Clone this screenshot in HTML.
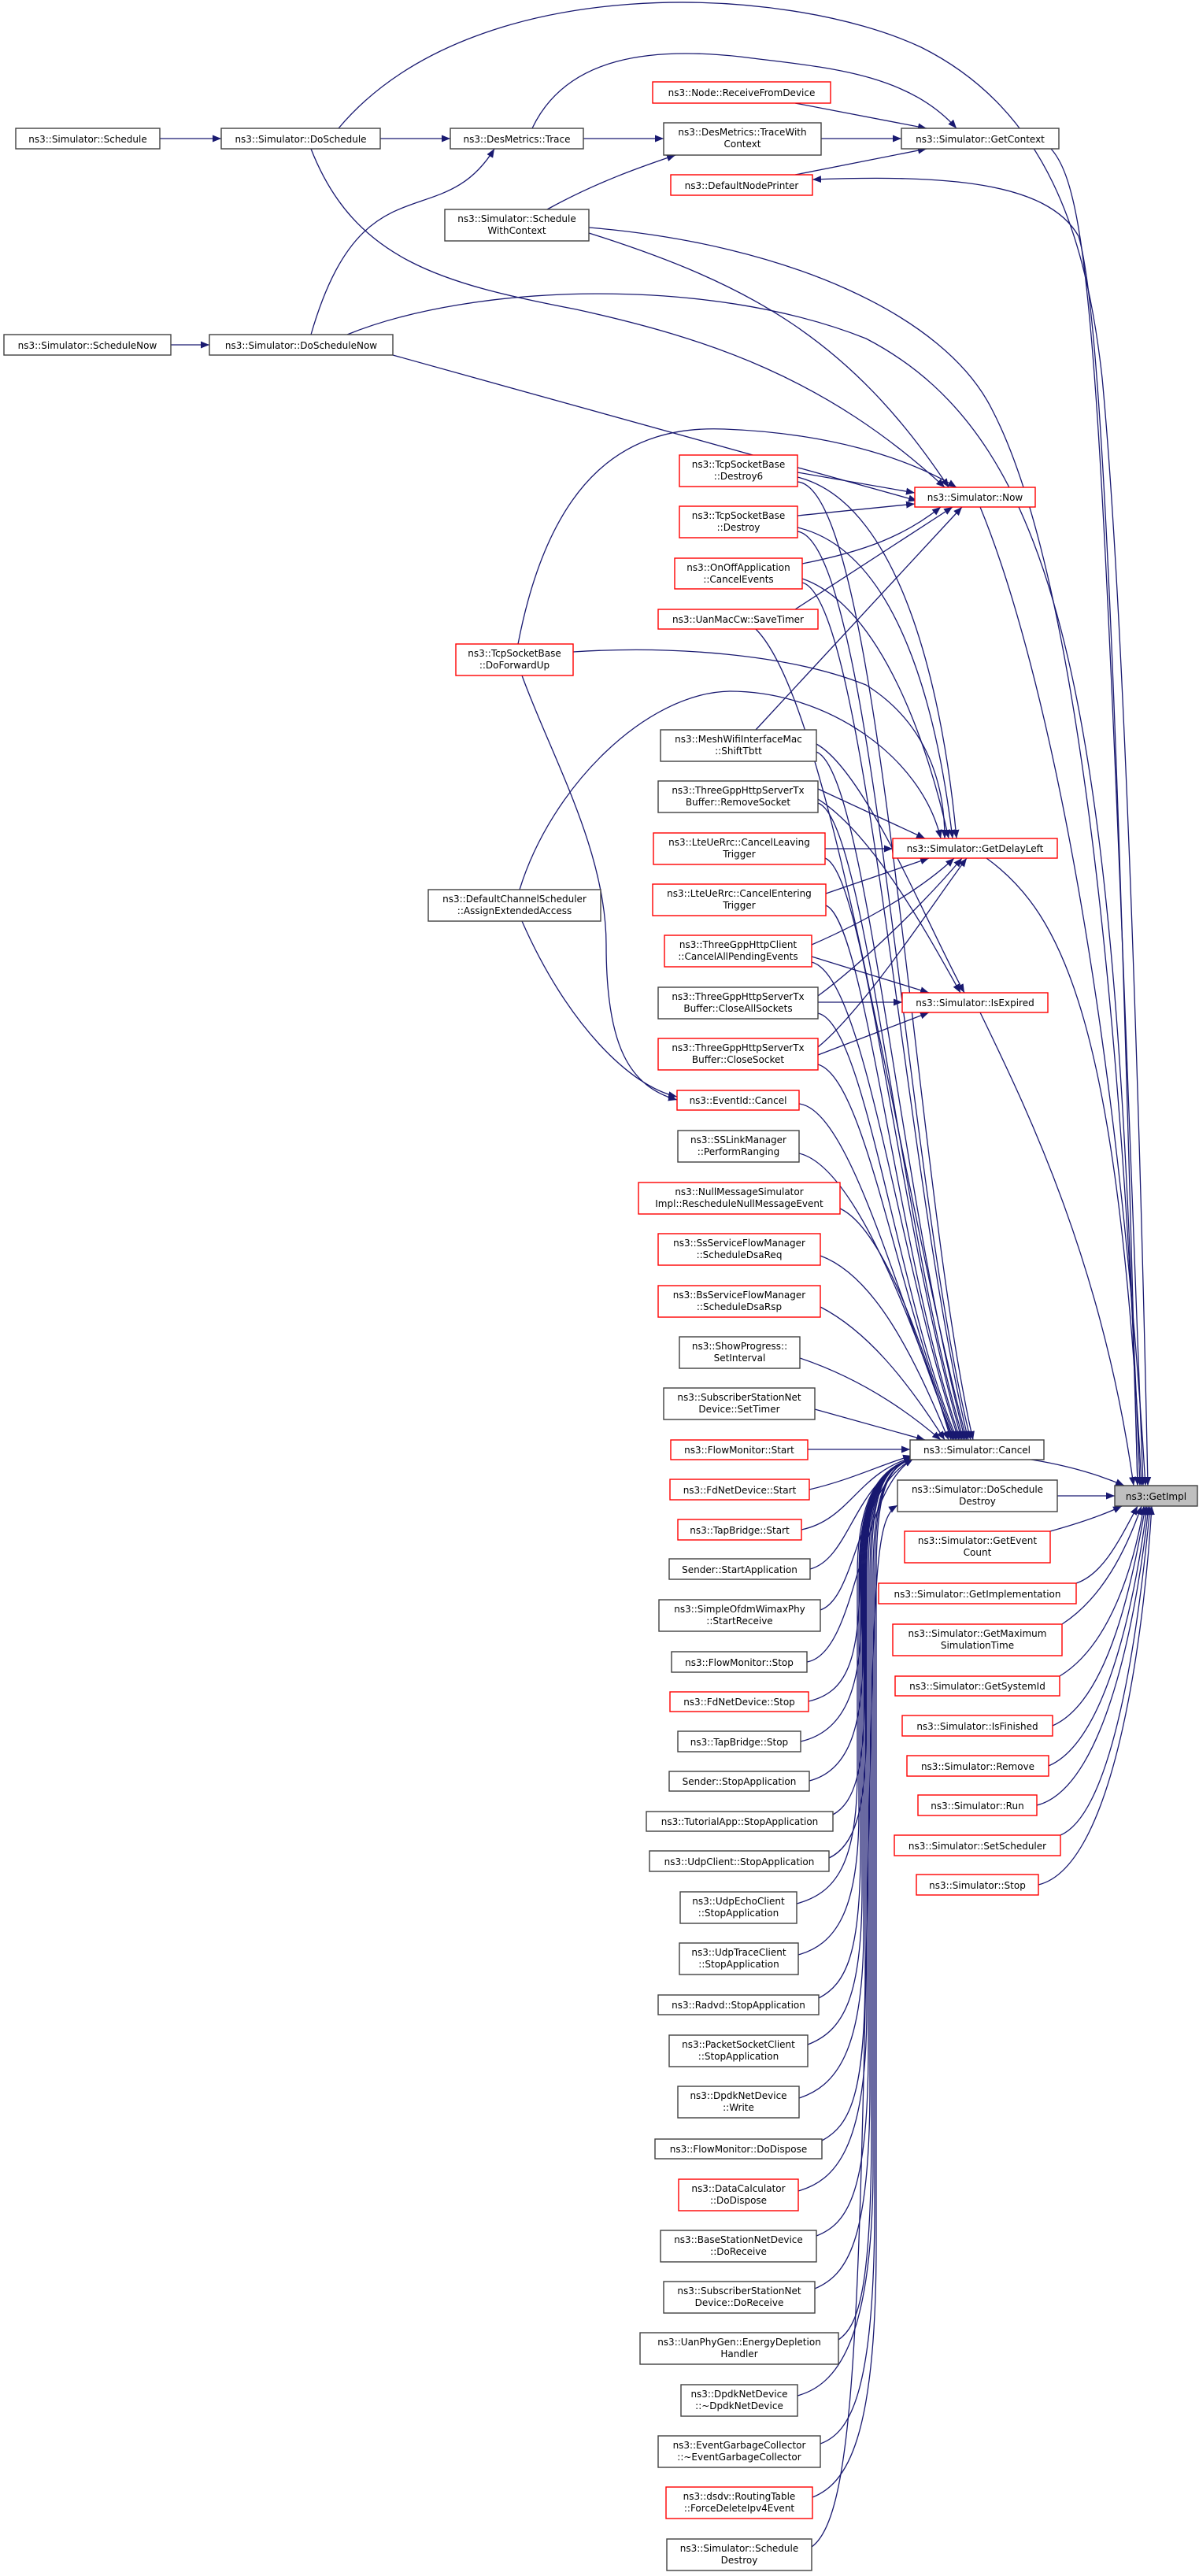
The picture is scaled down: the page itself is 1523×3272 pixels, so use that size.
<!DOCTYPE html>
<html><head><meta charset="utf-8"><style>
html,body{margin:0;padding:0;background:#fff;}
svg{display:block}
text{font-family:"DejaVu Sans","Liberation Sans",sans-serif;font-size:12px;fill:#000;text-anchor:middle}
.b{fill:#fff;stroke:#404040;stroke-width:1.4}
.r{fill:#fff;stroke:#ff0000;stroke-width:1.4}
.e path{fill:none;stroke:#191970;stroke-width:1.3}
</style></head><body>
<svg width="1523" height="3272" viewBox="0 0 1523 3272" xmlns="http://www.w3.org/2000/svg">
<defs><marker id="a" markerUnits="userSpaceOnUse" markerWidth="12" markerHeight="10" refX="11" refY="4.5" orient="auto"><path d="M0,0 L11,4.5 L0,9 z" fill="#191970"/></marker></defs>

<g class="e">
<path d="M203,176 L281,176" marker-end="url(#a)"/>
<path d="M483,176 L572,176" marker-end="url(#a)"/>
<path d="M741,176 L843,176" marker-end="url(#a)"/>
<path d="M1043,176 L1145,176" marker-end="url(#a)"/>
<path d="M1010,131 L1177,163" marker-end="url(#a)"/>
<path d="M1010,222 L1177,189" marker-end="url(#a)"/>
<path d="M676,163 C720,70 830,60 940,72 C1040,85 1150,90 1215,163" marker-end="url(#a)"/>
<path d="M217,438 L266,438" marker-end="url(#a)"/>
<path d="M395,425 C460,200 560,300 628,189" marker-end="url(#a)"/>
<path d="M695,266 C760,230 820,210 858,197" marker-end="url(#a)"/>
<path d="M430,163 C600,-40 1000,-20 1170,60 C1330,140 1380,300 1400,480 C1430,800 1450,1500 1458,1887" marker-end="url(#a)"/>
<path d="M1335,189 C1390,250 1400,500 1452,1887" marker-end="url(#a)"/>
<path d="M1445,1887 C1420,900 1400,400 1370,300 C1330,230 1200,222 1032,228" marker-end="url(#a)"/>
<path d="M395,189 C450,330 560,360 732,393 C900,430 1050,480 1200,619" marker-end="url(#a)"/>
<path d="M748,296 C950,360 1080,430 1205,619" marker-end="url(#a)"/>
<path d="M748,289 C1000,310 1200,400 1260,520 C1380,750 1430,1400 1448,1887" marker-end="url(#a)"/>
<path d="M441,425 C600,360 900,350 1100,430 C1350,560 1420,900 1445,1887" marker-end="url(#a)"/>
<path d="M499,451 L1165,636" marker-end="url(#a)"/>
<path d="M1013,600 L1162,626" marker-end="url(#a)"/>
<path d="M1013,655 L1162,640" marker-end="url(#a)"/>
<path d="M1019,716 C1100,700 1150,680 1195,644" marker-end="url(#a)"/>
<path d="M1010,774 L1210,644" marker-end="url(#a)"/>
<path d="M960,927 L1222,644" marker-end="url(#a)"/>
<path d="M658,818 C700,600 800,540 920,545 C1050,550 1150,580 1215,619" marker-end="url(#a)"/>
<path d="M1013,606 C1150,640 1200,900 1215,1065" marker-end="url(#a)"/>
<path d="M1013,670 C1140,700 1190,900 1210,1065" marker-end="url(#a)"/>
<path d="M1019,735 C1120,770 1180,950 1205,1065" marker-end="url(#a)"/>
<path d="M728,828 C850,820 1000,830 1100,870 C1180,920 1200,1000 1200,1065" marker-end="url(#a)"/>
<path d="M660,1130 C700,1000 820,880 927,878 C1050,878 1170,960 1195,1065" marker-end="url(#a)"/>
<path d="M1039,1002 L1175,1065" marker-end="url(#a)"/>
<path d="M1048,1078 L1134,1078" marker-end="url(#a)"/>
<path d="M1049,1135 L1180,1090" marker-end="url(#a)"/>
<path d="M1031,1200 C1100,1170 1170,1130 1212,1090" marker-end="url(#a)"/>
<path d="M1039,1265 C1100,1220 1180,1140 1222,1090" marker-end="url(#a)"/>
<path d="M1039,1330 C1100,1280 1190,1140 1228,1090" marker-end="url(#a)"/>
<path d="M1037,945 C1100,980 1180,1180 1225,1261" marker-end="url(#a)"/>
<path d="M1039,1015 C1110,1060 1180,1190 1220,1261" marker-end="url(#a)"/>
<path d="M1031,1215 L1180,1261" marker-end="url(#a)"/>
<path d="M1039,1273 L1146,1273" marker-end="url(#a)"/>
<path d="M1039,1340 L1180,1286" marker-end="url(#a)"/>
<path d="M663,858 C700,960 770,1080 770,1200 C770,1330 800,1380 860,1397" marker-end="url(#a)"/>
<path d="M663,1170 C720,1300 800,1380 860,1393" marker-end="url(#a)"/>
<path d="M1245,644 C1330,850 1420,1300 1455,1887" marker-end="url(#a)"/>
<path d="M1253,1090 C1350,1160 1420,1300 1450,1887" marker-end="url(#a)"/>
<path d="M1245,1286 C1300,1400 1400,1600 1440,1887" marker-end="url(#a)"/>
<path d="M1310,1854 C1360,1862 1400,1875 1428,1887" marker-end="url(#a)"/>
<path d="M1343,1900 L1416,1900" marker-end="url(#a)"/>
<path d="M1334,1945 C1370,1935 1400,1925 1425,1913" marker-end="url(#a)"/>
<path d="M1367,2011 C1400,2000 1420,1960 1445,1913" marker-end="url(#a)"/>
<path d="M1349,2063 C1400,2030 1430,1970 1450,1913" marker-end="url(#a)"/>
<path d="M1346,2129 C1410,2090 1440,1990 1453,1913" marker-end="url(#a)"/>
<path d="M1337,2192 C1410,2160 1440,2000 1455,1913" marker-end="url(#a)"/>
<path d="M1332,2243 C1410,2210 1445,2010 1457,1913" marker-end="url(#a)"/>
<path d="M1317,2293 C1410,2270 1448,2020 1459,1913" marker-end="url(#a)"/>
<path d="M1347,2331 C1420,2300 1450,2030 1461,1913" marker-end="url(#a)"/>
<path d="M1319,2394 C1420,2370 1455,2050 1463,1913" marker-end="url(#a)"/>
<path d="M1031,3235 C1080,3200 1090,3000 1100,2500 C1110,2000 1110,1930 1140,1912" marker-end="url(#a)"/>
<path d="M1013,612 C1120,620 1160,1500 1236,1829" marker-end="url(#a)"/>
<path d="M1013,675 C1110,690 1150,1500 1233,1829" marker-end="url(#a)"/>
<path d="M1019,740 C1100,760 1150,1500 1230,1829" marker-end="url(#a)"/>
<path d="M960,799 C1060,900 1140,1500 1228,1829" marker-end="url(#a)"/>
<path d="M1037,955 C1100,980 1140,1500 1226,1829" marker-end="url(#a)"/>
<path d="M1039,1020 C1100,1040 1140,1550 1224,1829" marker-end="url(#a)"/>
<path d="M1048,1090 C1100,1110 1140,1550 1222,1829" marker-end="url(#a)"/>
<path d="M1049,1150 C1100,1170 1140,1600 1220,1829" marker-end="url(#a)"/>
<path d="M1031,1222 C1100,1240 1140,1600 1218,1829" marker-end="url(#a)"/>
<path d="M1039,1287 C1100,1300 1140,1650 1216,1829" marker-end="url(#a)"/>
<path d="M1039,1352 C1100,1370 1140,1650 1214,1829" marker-end="url(#a)"/>
<path d="M1015,1402 C1080,1410 1140,1650 1212,1829" marker-end="url(#a)"/>
<path d="M1015,1465 C1080,1480 1150,1650 1210,1829" marker-end="url(#a)"/>
<path d="M1067,1535 C1120,1560 1170,1700 1208,1829" marker-end="url(#a)"/>
<path d="M1042,1595 C1110,1620 1160,1720 1205,1829" marker-end="url(#a)"/>
<path d="M1042,1660 C1100,1690 1150,1750 1200,1829" marker-end="url(#a)"/>
<path d="M1016,1725 C1090,1750 1150,1790 1195,1829" marker-end="url(#a)"/>
<path d="M1035,1790 L1175,1829" marker-end="url(#a)"/>
<path d="M1026,1841 L1156,1841" marker-end="url(#a)"/>
<path d="M1028,1892 C1080,1880 1120,1860 1158,1849" marker-end="url(#a)"/>
<path d="M1018,1943 C1080,1930 1090,1870 1160,1851" marker-end="url(#a)"/>
<path d="M1029,1993 C1080,1980 1085,1880 1160,1852" marker-end="url(#a)"/>
<path d="M1042,2045 C1088,2030 1088,1890 1160,1853" marker-end="url(#a)"/>
<path d="M1025,2111 C1090,2100 1090,1895 1160,1853" marker-end="url(#a)"/>
<path d="M1027,2161 C1075,2150 1092,2110 1092,2000 C1092,1900 1120,1862 1160,1853" marker-end="url(#a)"/>
<path d="M1017,2212 C1070,2200 1094,2150 1094,2050 L1094,2000 C1094,1900 1120,1862 1160,1853" marker-end="url(#a)"/>
<path d="M1028,2262 C1075,2250 1096,2200 1096,2100 L1096,2000 C1096,1900 1120,1862 1160,1853" marker-end="url(#a)"/>
<path d="M1058,2305 C1085,2290 1098,2250 1098,2150 L1098,2000 C1098,1900 1120,1862 1160,1853" marker-end="url(#a)"/>
<path d="M1053,2360 C1085,2345 1100,2300 1100,2200 L1100,2000 C1100,1900 1120,1862 1160,1853" marker-end="url(#a)"/>
<path d="M1012,2418 C1060,2405 1089,2370 1089,2250 L1089,2000 C1089,1900 1120,1862 1160,1853" marker-end="url(#a)"/>
<path d="M1014,2483 C1060,2470 1091,2430 1091,2300 L1091,2000 C1091,1900 1120,1862 1160,1853" marker-end="url(#a)"/>
<path d="M1040,2538 C1075,2520 1093,2480 1093,2350 L1093,2000 C1093,1900 1120,1862 1160,1853" marker-end="url(#a)"/>
<path d="M1026,2597 C1070,2580 1095,2540 1095,2400 L1095,2000 C1095,1900 1120,1862 1160,1853" marker-end="url(#a)"/>
<path d="M1015,2665 C1060,2650 1097,2610 1097,2450 L1097,2000 C1097,1900 1120,1862 1160,1853" marker-end="url(#a)"/>
<path d="M1044,2719 C1080,2700 1099,2660 1099,2500 L1099,2000 C1099,1900 1120,1862 1160,1853" marker-end="url(#a)"/>
<path d="M1014,2783 C1060,2770 1101,2730 1101,2550 L1101,2000 C1101,1900 1120,1862 1160,1853" marker-end="url(#a)"/>
<path d="M1037,2840 C1075,2825 1103,2790 1103,2600 L1103,2000 C1103,1900 1120,1862 1160,1853" marker-end="url(#a)"/>
<path d="M1035,2907 C1075,2890 1105,2850 1105,2650 L1105,2000 C1105,1900 1120,1862 1160,1853" marker-end="url(#a)"/>
<path d="M1065,2972 C1090,2955 1107,2910 1107,2700 L1107,2000 C1107,1900 1120,1862 1160,1853" marker-end="url(#a)"/>
<path d="M1013,3043 C1060,3030 1109,2980 1109,2750 L1109,2000 C1109,1900 1125,1862 1160,1853" marker-end="url(#a)"/>
<path d="M1042,3104 C1080,3090 1111,3040 1111,2800 L1111,2000 C1111,1900 1125,1862 1160,1853" marker-end="url(#a)"/>
<path d="M1032,3172 C1075,3155 1113,3100 1113,2850 L1113,2000 C1113,1900 1125,1862 1160,1853" marker-end="url(#a)"/>
</g>

<rect class="b" x="20" y="163" width="183" height="26"/><text x="111.5" y="181">ns3::Simulator::Schedule</text>
<rect class="b" x="281" y="163" width="202" height="26"/><text x="382" y="181">ns3::Simulator::DoSchedule</text>
<rect class="b" x="572" y="163" width="169" height="26"/><text x="656.5" y="181">ns3::DesMetrics::Trace</text>
<rect class="b" x="843" y="156" width="200" height="41"/><text x="943" y="172">ns3::DesMetrics::TraceWith</text><text x="943" y="187">Context</text>
<rect class="b" x="1145" y="163" width="200" height="26"/><text x="1245" y="181">ns3::Simulator::GetContext</text>
<rect class="r" x="829" y="104" width="226" height="27"/><text x="942" y="122">ns3::Node::ReceiveFromDevice</text>
<rect class="r" x="852" y="222" width="180" height="26"/><text x="942" y="240">ns3::DefaultNodePrinter</text>
<rect class="b" x="565" y="266" width="183" height="40"/><text x="656.5" y="282">ns3::Simulator::Schedule</text><text x="656.5" y="297">WithContext</text>
<rect class="b" x="5" y="425" width="212" height="26"/><text x="111" y="443">ns3::Simulator::ScheduleNow</text>
<rect class="b" x="266" y="425" width="233" height="26"/><text x="382.5" y="443">ns3::Simulator::DoScheduleNow</text>

<rect class="r" x="1162" y="619" width="153" height="25"/><text x="1238.5" y="636">ns3::Simulator::Now</text>
<rect class="r" x="1134" y="1065" width="209" height="25"/><text x="1238.5" y="1082">ns3::Simulator::GetDelayLeft</text>
<rect class="r" x="1146" y="1261" width="185" height="25"/><text x="1238.5" y="1278">ns3::Simulator::IsExpired</text>
<rect class="r" x="579" y="818" width="149" height="40"/><text x="653.5" y="834">ns3::TcpSocketBase</text><text x="653.5" y="849">::DoForwardUp</text>
<rect class="b" x="544" y="1130" width="219" height="40"/><text x="653.5" y="1146">ns3::DefaultChannelScheduler</text><text x="653.5" y="1161">::AssignExtendedAccess</text>

<rect class="r" x="863" y="578" width="150" height="40"/><text x="938" y="594">ns3::TcpSocketBase</text><text x="938" y="609">::Destroy6</text>
<rect class="r" x="863" y="643" width="150" height="40"/><text x="938" y="659">ns3::TcpSocketBase</text><text x="938" y="674">::Destroy</text>
<rect class="r" x="857" y="709" width="162" height="39"/><text x="938" y="725">ns3::OnOffApplication</text><text x="938" y="740">::CancelEvents</text>
<rect class="r" x="836" y="774" width="203" height="25"/><text x="937.5" y="791">ns3::UanMacCw::SaveTimer</text>
<rect class="b" x="839" y="927" width="198" height="40"/><text x="938" y="943">ns3::MeshWifiInterfaceMac</text><text x="938" y="958">::ShiftTbtt</text>
<rect class="b" x="836" y="992" width="203" height="40"/><text x="937.5" y="1008">ns3::ThreeGppHttpServerTx</text><text x="937.5" y="1023">Buffer::RemoveSocket</text>
<rect class="r" x="830" y="1058" width="218" height="40"/><text x="939" y="1074">ns3::LteUeRrc::CancelLeaving</text><text x="939" y="1089">Trigger</text>
<rect class="r" x="829" y="1123" width="220" height="40"/><text x="939" y="1139">ns3::LteUeRrc::CancelEntering</text><text x="939" y="1154">Trigger</text>
<rect class="r" x="844" y="1188" width="187" height="40"/><text x="937.5" y="1204">ns3::ThreeGppHttpClient</text><text x="937.5" y="1219">::CancelAllPendingEvents</text>
<rect class="b" x="836" y="1254" width="203" height="40"/><text x="937.5" y="1270">ns3::ThreeGppHttpServerTx</text><text x="937.5" y="1285">Buffer::CloseAllSockets</text>
<rect class="r" x="836" y="1319" width="203" height="40"/><text x="937.5" y="1335">ns3::ThreeGppHttpServerTx</text><text x="937.5" y="1350">Buffer::CloseSocket</text>
<rect class="r" x="860" y="1385" width="155" height="25"/><text x="937.5" y="1402">ns3::EventId::Cancel</text>
<rect class="b" x="861" y="1436" width="154" height="40"/><text x="938" y="1452">ns3::SSLinkManager</text><text x="938" y="1467">::PerformRanging</text>
<rect class="r" x="811" y="1502" width="256" height="40"/><text x="939" y="1518">ns3::NullMessageSimulator</text><text x="939" y="1533">Impl::RescheduleNullMessageEvent</text>
<rect class="r" x="836" y="1567" width="206" height="40"/><text x="939" y="1583">ns3::SsServiceFlowManager</text><text x="939" y="1598">::ScheduleDsaReq</text>
<rect class="r" x="836" y="1633" width="206" height="40"/><text x="939" y="1649">ns3::BsServiceFlowManager</text><text x="939" y="1664">::ScheduleDsaRsp</text>
<rect class="b" x="863" y="1698" width="153" height="40"/><text x="939.5" y="1714">ns3::ShowProgress::</text><text x="939.5" y="1729">SetInterval</text>
<rect class="b" x="843" y="1763" width="192" height="40"/><text x="939" y="1779">ns3::SubscriberStationNet</text><text x="939" y="1794">Device::SetTimer</text>
<rect class="r" x="852" y="1829" width="174" height="25"/><text x="939" y="1846">ns3::FlowMonitor::Start</text>
<rect class="r" x="851" y="1879" width="177" height="26"/><text x="939.5" y="1897">ns3::FdNetDevice::Start</text>
<rect class="r" x="861" y="1930" width="157" height="26"/><text x="939.5" y="1948">ns3::TapBridge::Start</text>
<rect class="b" x="850" y="1980" width="179" height="26"/><text x="939.5" y="1998">Sender::StartApplication</text>
<rect class="b" x="837" y="2032" width="205" height="40"/><text x="939.5" y="2048">ns3::SimpleOfdmWimaxPhy</text><text x="939.5" y="2063">::StartReceive</text>
<rect class="b" x="853" y="2098" width="172" height="26"/><text x="939" y="2116">ns3::FlowMonitor::Stop</text>
<rect class="r" x="851" y="2149" width="176" height="25"/><text x="939" y="2166">ns3::FdNetDevice::Stop</text>
<rect class="b" x="861" y="2199" width="156" height="26"/><text x="939" y="2217">ns3::TapBridge::Stop</text>
<rect class="b" x="850" y="2250" width="178" height="25"/><text x="939" y="2267">Sender::StopApplication</text>
<rect class="b" x="821" y="2301" width="237" height="25"/><text x="939.5" y="2318">ns3::TutorialApp::StopApplication</text>
<rect class="b" x="825" y="2351" width="228" height="26"/><text x="939" y="2369">ns3::UdpClient::StopApplication</text>
<rect class="b" x="864" y="2403" width="148" height="40"/><text x="938" y="2419">ns3::UdpEchoClient</text><text x="938" y="2434">::StopApplication</text>
<rect class="b" x="863" y="2468" width="151" height="40"/><text x="938.5" y="2484">ns3::UdpTraceClient</text><text x="938.5" y="2499">::StopApplication</text>
<rect class="b" x="836" y="2534" width="204" height="25"/><text x="938" y="2551">ns3::Radvd::StopApplication</text>
<rect class="b" x="850" y="2585" width="176" height="40"/><text x="938" y="2601">ns3::PacketSocketClient</text><text x="938" y="2616">::StopApplication</text>
<rect class="b" x="861" y="2650" width="154" height="40"/><text x="938" y="2666">ns3::DpdkNetDevice</text><text x="938" y="2681">::Write</text>
<rect class="b" x="832" y="2717" width="212" height="25"/><text x="938" y="2734">ns3::FlowMonitor::DoDispose</text>
<rect class="r" x="862" y="2768" width="152" height="40"/><text x="938" y="2784">ns3::DataCalculator</text><text x="938" y="2799">::DoDispose</text>
<rect class="b" x="839" y="2833" width="198" height="40"/><text x="938" y="2849">ns3::BaseStationNetDevice</text><text x="938" y="2864">::DoReceive</text>
<rect class="b" x="843" y="2898" width="192" height="40"/><text x="939" y="2914">ns3::SubscriberStationNet</text><text x="939" y="2929">Device::DoReceive</text>
<rect class="b" x="813" y="2963" width="252" height="40"/><text x="939" y="2979">ns3::UanPhyGen::EnergyDepletion</text><text x="939" y="2994">Handler</text>
<rect class="b" x="865" y="3029" width="148" height="40"/><text x="939" y="3045">ns3::DpdkNetDevice</text><text x="939" y="3060">::~DpdkNetDevice</text>
<rect class="b" x="836" y="3094" width="206" height="40"/><text x="939" y="3110">ns3::EventGarbageCollector</text><text x="939" y="3125">::~EventGarbageCollector</text>
<rect class="r" x="846" y="3159" width="186" height="40"/><text x="939" y="3175">ns3::dsdv::RoutingTable</text><text x="939" y="3190">::ForceDeleteIpv4Event</text>
<rect class="b" x="847" y="3225" width="184" height="40"/><text x="939" y="3241">ns3::Simulator::Schedule</text><text x="939" y="3256">Destroy</text>

<rect class="b" x="1156" y="1829" width="170" height="25"/><text x="1241" y="1846">ns3::Simulator::Cancel</text>
<rect class="b" x="1140" y="1880" width="203" height="40"/><text x="1241.5" y="1896">ns3::Simulator::DoSchedule</text><text x="1241.5" y="1911">Destroy</text>
<rect class="r" x="1149" y="1945" width="185" height="40"/><text x="1241.5" y="1961">ns3::Simulator::GetEvent</text><text x="1241.5" y="1976">Count</text>
<rect class="r" x="1116" y="2011" width="251" height="26"/><text x="1241.5" y="2029">ns3::Simulator::GetImplementation</text>
<rect class="r" x="1134" y="2063" width="215" height="40"/><text x="1241.5" y="2079">ns3::Simulator::GetMaximum</text><text x="1241.5" y="2094">SimulationTime</text>
<rect class="r" x="1137" y="2129" width="209" height="25"/><text x="1241.5" y="2146">ns3::Simulator::GetSystemId</text>
<rect class="r" x="1146" y="2179" width="191" height="26"/><text x="1241.5" y="2197">ns3::Simulator::IsFinished</text>
<rect class="r" x="1152" y="2230" width="180" height="26"/><text x="1242" y="2248">ns3::Simulator::Remove</text>
<rect class="r" x="1166" y="2280" width="151" height="26"/><text x="1241.5" y="2298">ns3::Simulator::Run</text>
<rect class="r" x="1136" y="2331" width="211" height="26"/><text x="1241.5" y="2349">ns3::Simulator::SetScheduler</text>
<rect class="r" x="1164" y="2381" width="155" height="26"/><text x="1241.5" y="2399">ns3::Simulator::Stop</text>

<rect x="1416" y="1887" width="105" height="26" fill="#bfbfbf" stroke="#404040" stroke-width="1.4"/><text x="1468.5" y="1905">ns3::GetImpl</text>
</svg>
</body></html>
